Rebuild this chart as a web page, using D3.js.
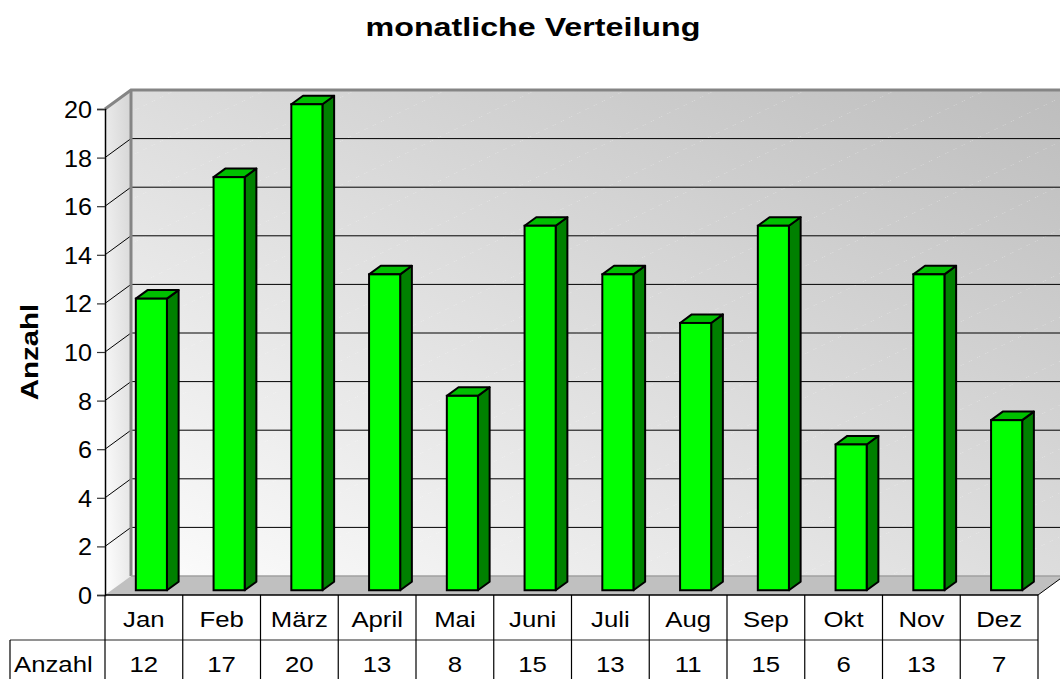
<!DOCTYPE html>
<meta charset="utf-8">
<head>
    <title>monatliche Verteilung</title>
    <script type="text/javascript" src="https://cdn.jsdelivr.net/npm/d3@7"></script>
    <style>
        body { margin: 0; background: #fff; }
        text { font-family: "Liberation Sans", Arial, sans-serif; fill: #000; }
    </style>
</head>
<body>
<div id="chart"></div>
<script>
    // data
    const months = ["Jan", "Feb", "März", "April", "Mai", "Juni", "Juli", "Aug", "Sep", "Okt", "Nov", "Dez"];
    const counts = [12, 17, 20, 13, 8, 15, 13, 11, 15, 6, 13, 7];
    const yTicks = [0, 2, 4, 6, 8, 10, 12, 14, 16, 18, 20];
    const seriesName = "Anzahl";

    const width = 1060, height = 679;
    // front plane of the 3d box and depth offset
    const plotLeft = 105, plotRight = 1038, plotBottom = 595, plotTop = 109;
    const dx = 26, dy = -19;
    // the original picture is stretched sideways, so text is too
    const stretch = 1.12;

    const svg = d3.select("#chart").append("svg")
        .attr("width", width).attr("height", height);

    const defs = svg.append("defs");
    const grad = defs.append("linearGradient").attr("id", "wallGrad")
        .attr("x1", "0%").attr("y1", "100%").attr("x2", "100%").attr("y2", "0%");
    grad.append("stop").attr("offset", "0%").attr("stop-color", "#fcfcfc");
    grad.append("stop").attr("offset", "100%").attr("stop-color", "#bdbdbd");

    const sideGrad = defs.append("linearGradient").attr("id", "sideGrad")
        .attr("x1", "0%").attr("y1", "100%").attr("x2", "100%").attr("y2", "0%");
    sideGrad.append("stop").attr("offset", "0%").attr("stop-color", "#ffffff");
    sideGrad.append("stop").attr("offset", "100%").attr("stop-color", "#d4d4d4");

    // faint diagonal dotted stripes on the wall
    const pat = defs.append("pattern").attr("id", "stripes")
        .attr("patternUnits", "userSpaceOnUse")
        .attr("width", 90).attr("height", 40)
        .attr("patternTransform", "skewX(-64)");
    pat.append("line").attr("x1", 0).attr("y1", 0).attr("x2", 0).attr("y2", 40)
        .attr("stroke", "#ffffff").attr("stroke-opacity", 0.45)
        .attr("stroke-width", 1.2).attr("stroke-dasharray", "2,2");

    const x = d3.scaleBand().domain(months).range([plotLeft, plotRight]);
    const y = d3.scaleLinear().domain([0, 20]).range([plotBottom, plotTop]);

    // back wall
    const wallX0 = plotLeft + dx, wallX1 = plotRight + dx;
    svg.append("rect")
        .attr("x", wallX0).attr("y", y(20) + dy)
        .attr("width", wallX1 - wallX0).attr("height", y(0) - y(20))
        .attr("fill", "url(#wallGrad)");
    svg.append("rect")
        .attr("x", wallX0).attr("y", y(20) + dy)
        .attr("width", wallX1 - wallX0).attr("height", y(0) - y(20))
        .attr("fill", "url(#stripes)");

    // side wall
    svg.append("path")
        .attr("d", `M${plotLeft},${y(20)}L${wallX0},${y(20) + dy}L${wallX0},${y(0) + dy}L${plotLeft},${y(0)}Z`)
        .attr("fill", "url(#sideGrad)");

    // floor
    svg.append("path")
        .attr("d", `M${plotLeft},${y(0)}L${wallX0},${y(0) + dy}L${wallX1},${y(0) + dy}L${plotRight},${y(0)}Z`)
        .attr("fill", "#c0c0c0");
    svg.append("path")
        .attr("d", `M${plotRight},${y(0)}L${wallX1},${y(0) + dy}`)
        .attr("stroke", "#000").attr("stroke-width", 1);

    // gridlines
    const grid = svg.append("g");
    yTicks.filter(v => v > 0 && v < 20).forEach(v => {
        grid.append("line")
            .attr("x1", plotLeft).attr("y1", y(v))
            .attr("x2", wallX0).attr("y2", y(v) + dy)
            .attr("stroke", "#000").attr("stroke-width", 1);
        grid.append("line")
            .attr("x1", wallX0).attr("y1", y(v) + dy)
            .attr("x2", wallX1).attr("y2", y(v) + dy)
            .attr("stroke", "#000").attr("stroke-width", 1);
    });

    // wall edges
    svg.append("path")
        .attr("d", `M${plotLeft},${y(20)}L${wallX0},${y(20) + dy}L${wallX1},${y(20) + dy}`)
        .attr("fill", "none").attr("stroke", "#858585").attr("stroke-width", 3);
    svg.append("line")
        .attr("x1", wallX0).attr("y1", y(20) + dy)
        .attr("x2", wallX0).attr("y2", y(0) + dy)
        .attr("stroke", "#858585").attr("stroke-width", 3);
    svg.append("line")
        .attr("x1", wallX0).attr("y1", y(0) + dy)
        .attr("x2", wallX1).attr("y2", y(0) + dy)
        .attr("stroke", "#a0a0a0").attr("stroke-width", 1.5);

    // bars
    const bw = x.bandwidth() * 0.4;
    const f0 = 0.25, f1 = 0.7;
    const bars = svg.append("g").selectAll("g").data(months).join("g");
    bars.each(function (m, i) {
        const g = d3.select(this);
        const xL = x(m) + (x.bandwidth() - bw) / 2 + dx * f0 + 1;
        const xR = xL + bw;
        const yB = y(0) + dy * f0;
        const yT = y(counts[i]) + dy * f0;
        const ox = dx * (f1 - f0), oy = dy * (f1 - f0);
        // side
        g.append("path")
            .attr("d", `M${xR},${yT}L${xR + ox},${yT + oy}L${xR + ox},${yB + oy}L${xR},${yB}Z`)
            .attr("fill", "#008000").attr("stroke", "#000").attr("stroke-width", 2)
            .attr("stroke-linejoin", "round");
        // top
        g.append("path")
            .attr("d", `M${xL},${yT}L${xL + ox},${yT + oy}L${xR + ox},${yT + oy}L${xR},${yT}Z`)
            .attr("fill", "#00c000").attr("stroke", "#000").attr("stroke-width", 2)
            .attr("stroke-linejoin", "round");
        // front
        g.append("rect")
            .attr("x", xL).attr("y", yT)
            .attr("width", bw).attr("height", yB - yT)
            .attr("fill", "#00ff00").attr("stroke", "#000").attr("stroke-width", 2);
    });

    // y axis
    const yAxis = d3.axisLeft(y).tickValues(yTicks).tickSize(8).tickPadding(0);
    const ax = svg.append("g").attr("transform", `translate(${plotLeft},0)`).call(yAxis);
    ax.select(".domain").attr("stroke", "#000").attr("stroke-width", 1.5);
    ax.selectAll(".tick line").attr("stroke", "#333").attr("stroke-width", 1.2);
    ax.selectAll(".tick text")
        .attr("x", null).attr("dy", null)
        .attr("transform", "translate(-13,8.5) scale(1.05,1)")
        .style("font-family", "'Liberation Sans', Arial, sans-serif")
        .style("font-size", "24px").attr("fill", "#000");

    // axis title
    svg.append("text")
        .attr("transform", `translate(38,${(y(0) + y(20)) / 2}) rotate(-90) scale(1.28,1)`)
        .attr("text-anchor", "middle")
        .style("font-size", "23px").style("font-weight", "bold")
        .text(seriesName);

    // chart title
    svg.append("text")
        .attr("transform", `translate(533,36) scale(1.24,1)`)
        .attr("text-anchor", "middle")
        .style("font-size", "26px").style("font-weight", "bold")
        .text("monatliche Verteilung");

    // data table
    const rowY = 640, labelX = 10;
    const table = svg.append("g");
    table.append("line").attr("x1", plotLeft).attr("y1", y(0)).attr("x2", plotRight).attr("y2", y(0))
        .attr("stroke", "#000").attr("stroke-width", 1.5);
    table.append("line").attr("x1", labelX).attr("y1", rowY).attr("x2", plotRight).attr("y2", rowY)
        .attr("stroke", "#6e6e6e").attr("stroke-width", 1.5);
    table.append("line").attr("x1", labelX).attr("y1", rowY).attr("x2", labelX).attr("y2", height)
        .attr("stroke", "#000").attr("stroke-width", 1.2);
    months.forEach(m => {
        table.append("line").attr("x1", x(m)).attr("y1", y(0)).attr("x2", x(m)).attr("y2", height)
            .attr("stroke", "#000").attr("stroke-width", 1.2);
    });
    table.append("line").attr("x1", plotRight).attr("y1", y(0)).attr("x2", plotRight).attr("y2", height)
        .attr("stroke", "#000").attr("stroke-width", 1.2);

    table.selectAll("text.cat").data(months).join("text")
        .attr("class", "cat")
        .attr("transform", d => `translate(${x(d) + x.bandwidth() / 2},627) scale(${stretch},1)`)
        .attr("text-anchor", "middle").style("font-size", "23px")
        .text(d => d);
    table.selectAll("text.val").data(counts).join("text")
        .attr("class", "val")
        .attr("transform", (d, i) => `translate(${x(months[i]) + x.bandwidth() / 2},672) scale(${stretch},1)`)
        .attr("text-anchor", "middle").style("font-size", "23px")
        .text(d => d);
    table.append("text")
        .attr("transform", `translate(14,672) scale(${stretch},1)`)
        .style("font-size", "23px")
        .text(seriesName);
</script>
</body>
